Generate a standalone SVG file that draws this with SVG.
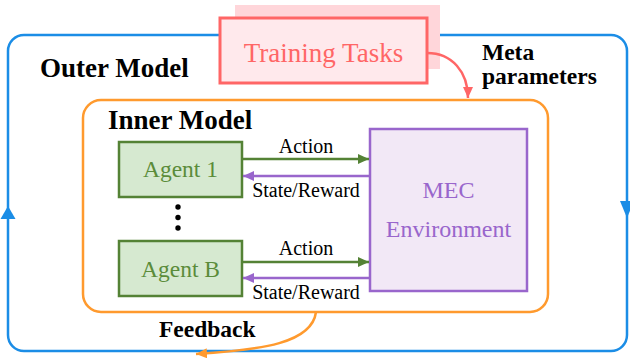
<svg xmlns="http://www.w3.org/2000/svg" width="630" height="361" viewBox="0 0 630 361" font-family="'Liberation Serif', 'DejaVu Serif', serif">
  <style>
    text { font-family: 'Liberation Serif', 'DejaVu Serif', serif; }
    .bold { font-weight: bold; fill: #000; }
    .agent rect { fill: #d6e9d0; stroke: #548235; stroke-width: 2.5; }
    .agent text { fill: #5b8c3a; font-size: 23.5px; text-anchor: middle; }
    .lbl { font-size: 20px; fill: #000; text-anchor: middle; }
    .act { stroke: #548235; stroke-width: 2.5; fill: none; }
    .rew { stroke: #9966cc; stroke-width: 2.5; fill: none; }
  </style>
  <defs>
    <marker id="arrGreen" markerUnits="userSpaceOnUse" markerWidth="11" markerHeight="10" refX="11" refY="5" orient="auto">
      <path d="M0,0 L11,5 L0,10 z" fill="#548235"/>
    </marker>
    <marker id="arrPurple" markerUnits="userSpaceOnUse" markerWidth="11" markerHeight="10" refX="11" refY="5" orient="auto">
      <path d="M0,0 L11,5 L0,10 z" fill="#9966cc"/>
    </marker>
    <marker id="arrRed" markerUnits="userSpaceOnUse" markerWidth="11" markerHeight="10" refX="11" refY="5" orient="auto">
      <path d="M0,0 L11,5 L0,10 z" fill="#ff6666"/>
    </marker>
    <marker id="arrOrange" markerUnits="userSpaceOnUse" markerWidth="11" markerHeight="10" refX="11" refY="5" orient="auto">
      <path d="M0,0 L11,5 L0,10 z" fill="#ff9a2e"/>
    </marker>
  </defs>

  <rect width="630" height="361" fill="#fff"/>

  <!-- outer loop -->
  <g id="outer-model">
    <rect x="8" y="35" width="619" height="316" rx="16" fill="none" stroke="#1b8de6" stroke-width="2.5"/>
    <polygon points="8,206 0.5,219 15.5,219" fill="#1b8de6"/>
    <polygon points="627,218 620,201 634,201" fill="#1b8de6"/>
    <text class="bold" x="40" y="77" font-size="27">Outer Model</text>
  </g>

  <!-- training tasks -->
  <g id="training-tasks">
    <rect x="235" y="5" width="205" height="64" fill="#ffd6da"/>
    <rect x="220" y="18" width="207" height="65" fill="#ffe9ec" stroke="#ff6666" stroke-width="3"/>
    <text x="323.5" y="62" font-size="27" fill="#ff6666" text-anchor="middle">Training Tasks</text>
  </g>

  <!-- inner loop -->
  <g id="inner-model">
    <rect x="83" y="100" width="465" height="212" rx="18" fill="none" stroke="#ff9a2e" stroke-width="2.5"/>
    <text class="bold" x="108" y="129" font-size="27">Inner Model</text>
  </g>

  <g id="agent-1" class="agent">
    <rect x="119" y="142" width="123" height="55"/>
    <text x="180.5" y="177">Agent 1</text>
  </g>

  <g id="ellipsis" fill="#000">
    <circle cx="178" cy="207" r="2.7"/>
    <circle cx="178" cy="217.5" r="2.7"/>
    <circle cx="178" cy="228" r="2.7"/>
  </g>

  <g id="agent-b" class="agent">
    <rect x="119" y="241" width="123" height="55"/>
    <text x="180.5" y="277">Agent B</text>
  </g>

  <g id="mec-environment">
    <rect x="370" y="129" width="157" height="162" fill="#f2e8f6" stroke="#9966cc" stroke-width="2.5"/>
    <text x="448.5" y="198" font-size="24" fill="#9966cc" text-anchor="middle">MEC</text>
    <text x="448.5" y="237" font-size="24" fill="#9966cc" text-anchor="middle">Environment</text>
  </g>

  <!-- connectors -->
  <g id="connectors">
    <line class="act" x1="242" y1="159" x2="369" y2="159" marker-end="url(#arrGreen)"/>
    <line class="rew" x1="370" y1="176" x2="243" y2="176" marker-end="url(#arrPurple)"/>
    <line class="act" x1="242" y1="262" x2="369" y2="262" marker-end="url(#arrGreen)"/>
    <line class="rew" x1="370" y1="278" x2="243" y2="278" marker-end="url(#arrPurple)"/>
    <text class="lbl" x="306" y="153">Action</text>
    <text class="lbl" x="306" y="197">State/Reward</text>
    <text class="lbl" x="306" y="255">Action</text>
    <text class="lbl" x="306" y="299">State/Reward</text>

    <path d="M427,53 C452,53 468,72 468,98" fill="none" stroke="#ff6666" stroke-width="2.5" marker-end="url(#arrRed)"/>
    <text class="bold" x="482" y="60" font-size="23.5">Meta</text>
    <text class="bold" x="482" y="84" font-size="23.5">parameters</text>

    <path d="M316,312 C312,343 262,350 196,354" fill="none" stroke="#ff9a2e" stroke-width="2.5" marker-end="url(#arrOrange)"/>
    <text class="bold" x="159" y="337" font-size="23.5">Feedback</text>
  </g>
</svg>
